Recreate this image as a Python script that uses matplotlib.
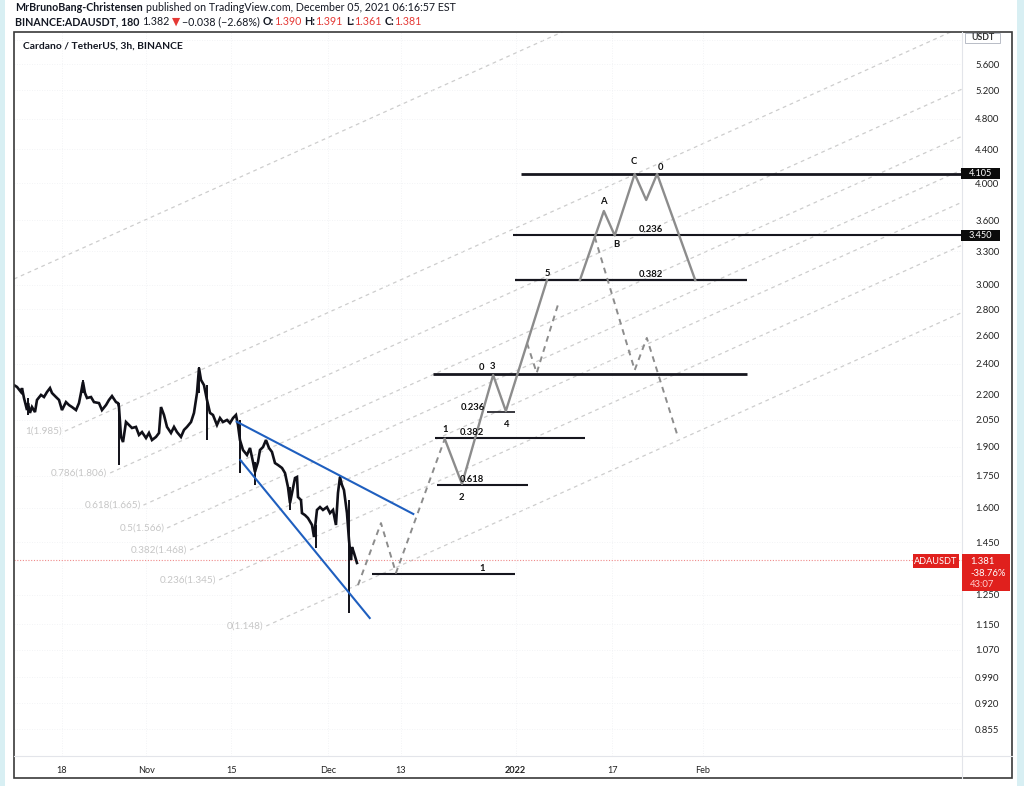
import numpy as np
import matplotlib
matplotlib.use("Agg")
import matplotlib.pyplot as plt
from matplotlib.patches import Rectangle
from matplotlib.lines import Line2D
from matplotlib.ticker import FixedLocator, NullLocator

plt.rcParams['font.family'] = ['Lato', 'DejaVu Sans']

# ---------------- data ----------------
# x: days relative to 2021-12-01 00:00, y: ADAUSDT price (log scale)
candle_days = [-51.90, -51.40, -50.74, -50.58, -50.25, -49.75, -49.59, -49.26, -48.93, -48.43,
               -48.10, -47.44, -46.94, -46.45, -45.95, -45.62, -44.96, -44.46, -43.97, -43.31,
               -42.81, -42.31, -41.65, -41.16, -40.83, -40.50, -40.17, -39.83, -39.17, -38.68,
               -37.85, -37.36, -36.69, -36.20, -35.70, -35.04, -34.71, -34.55, -34.21, -33.88,
               -33.39, -32.89, -32.40, -31.74, -31.24, -30.74, -30.08, -29.59, -29.09, -28.43,
               -27.93, -27.60, -27.11, -26.61, -25.95, -25.45, -24.96, -24.30, -23.80, -23.31,
               -22.64, -22.15, -21.65, -21.32, -20.99, -20.50, -20.00, -19.50, -19.01, -18.35,
               -17.85, -17.36, -16.69, -16.20, -15.70, -15.21, -14.88, -14.55, -14.05, -13.39,
               -12.89, -12.40, -12.07, -11.57, -11.24, -10.74, -10.25, -9.75, -9.26, -8.76,
               -8.26, -7.60, -7.11, -6.61, -6.28, -5.45, -5.12, -4.96, -4.46, -4.30,
               -3.80, -3.31, -2.64, -2.31, -1.82, -1.32, -0.83, -0.17, 0.33, 0.83,
               1.32, 1.65, 1.98, 2.31, 2.64, 3.14, 3.47, 3.80, 3.97, 4.30, 4.79]
candle_close = [2.261, 2.249, 2.217, 2.242, 2.180, 2.107, 2.149, 2.090, 2.125, 2.095,
                2.168, 2.199, 2.186, 2.217, 2.242, 2.211, 2.186, 2.168, 2.107, 2.155,
                2.137, 2.125, 2.107, 2.149, 2.211, 2.281, 2.211, 2.180, 2.186, 2.155,
                2.149, 2.107, 2.137, 2.168, 2.192, 2.155, 2.149, 2.125, 1.953, 1.925,
                2.037, 2.020, 2.003, 2.009, 1.964, 1.980, 1.947, 1.975, 1.936, 1.953,
                1.975, 2.125, 2.078, 2.009, 1.975, 2.009, 1.980, 1.953, 1.992, 2.009,
                2.037, 2.090, 2.211, 2.373, 2.294, 2.261, 2.168, 2.090, 2.078, 2.020,
                2.060, 2.037, 2.049, 2.031, 2.060, 2.078, 2.020, 1.936, 1.882, 1.856,
                1.893, 1.820, 1.769, 1.820, 1.882, 1.898, 1.936, 1.893, 1.872, 1.814,
                1.804, 1.789, 1.764, 1.695, 1.620, 1.739, 1.744, 1.648, 1.634, 1.575,
                1.566, 1.553, 1.523, 1.472, 1.589, 1.602, 1.589, 1.602, 1.575, 1.589,
                1.523, 1.667, 1.744, 1.705, 1.681, 1.575, 1.460, 1.379, 1.431, 1.407, 1.368]
wick_days = [-49.59, -40.50, -34.55, -21.32, -20.00, -14.55, -12.07, -6.28, -1.98, 1.98, 3.47]
wick_low = [2.078, 2.211, 1.804, 2.211, 1.936, 1.764, 1.705, 1.589, 1.427, 1.705, 1.188]
wick_high = [2.180, 2.294, 2.149, 2.380, 2.261, 2.049, 1.820, 1.695, 1.523, 1.755, 1.634]

price_ticks = [6.0, 5.6, 5.2, 4.8, 4.4, 4.0, 3.6, 3.3, 3.0, 2.8, 2.6, 2.4, 2.2, 2.05,
               1.9, 1.75, 1.6, 1.45, 1.25, 1.15, 1.07, 0.99, 0.92, 0.855]
price_tick_labels = ["6.000", "5.600", "5.200", "4.800", "4.400", "4.000", "3.600", "3.300",
                     "3.000", "2.800", "2.600", "2.400", "2.200", "2.050", "1.900", "1.750",
                     "1.600", "1.450", "1.250", "1.150", "1.070", "0.990", "0.920", "0.855"]
time_tick_days = [-44, -30, -16, 0, 12, 31, 47, 62]
time_tick_labels = ["18", "Nov", "15", "Dec", "13", "2022", "17", "Feb"]

wedge_upper_days = [-15.1, 14.1]
wedge_upper_prices = [2.039, 1.571]
wedge_lower_days = [-14.5, 6.9]
wedge_lower_prices = [1.830, 1.171]

fib_labels = ["", "1(1.985)", "0.786(1.806)", "0.618(1.665)", "0.5(1.566)",
              "0.382(1.468)", "0.236(1.345)", "0(1.148)"]
fib_start_days = [-51.9, -43.5, -36.0, -30.5, -26.6, -22.8, -18.0, -10.2]
fib_start_prices = [3.051, 1.985, 1.764, 1.611, 1.510, 1.419, 1.304, 1.145]
fib_log_slope_per_day = 0.0077
fib_end_day = 104.8

level_prices = [4.105, 3.450, 3.042, 2.333, 2.095, 1.947, 1.705, 1.326]
level_start_days = [31.9, 30.6, 30.9, 17.4, 26.3, 17.7, 18.0, 7.3]
level_end_days = [104.8, 104.8, 69.3, 69.3, 30.9, 42.5, 33.1, 30.9]
level_widths = [2.0, 1.5, 1.6, 2.0, 1.2, 1.5, 1.5, 1.5]

impulse_days = [19.3, 22.15, 27.3, 29.4, 36.2]
impulse_prices = [1.942, 1.710, 2.326, 2.101, 3.042]
abc_days = [41.65, 45.6, 47.4, 50.7, 52.6, 54.4, 60.7]
abc_prices = [3.042, 3.697, 3.450, 4.105, 3.814, 4.105, 3.042]
alt1_days = [4.96, 8.76, 11.24, 19.3]
alt1_prices = [1.285, 1.531, 1.330, 1.942]
alt2_days = [32.9, 34.5, 38.0]
alt2_prices = [2.546, 2.340, 2.835]
alt3_days = [44.1, 50.7, 52.7, 57.9]
alt3_prices = [3.435, 2.359, 2.583, 1.947]

wave_texts = ["C", "0", "A", "B", "0.236", "5", "0.382", "0", "3", "0.236", "4",
              "1", "0.382", "0.618", "2", "1"]
wave_text_days = [50.6, 54.9, 45.6, 47.6, 53.3, 36.2, 53.3, 25.3, 27.2, 23.9, 29.6,
                  19.3, 23.8, 23.8, 22.1, 25.4]
wave_text_prices = [4.258, 4.175, 3.793, 3.368, 3.504, 3.103, 3.086, 2.373, 2.382, 2.125,
                    2.025, 1.997, 1.975, 1.734, 1.648, 1.345]

last_price = 1.381
last_price_text = ["1.381", "-38.76%", "43:07"]
level_box_prices = [4.105, 3.450]
level_box_texts = ["4.105", "3.450"]

# ---------------- figure ----------------
W, H = 1024, 786
fig = plt.figure(figsize=(W / 100, H / 100), dpi=100)
fig.patch.set_facecolor('white')


def fx(px):
    return px / W


def fy(py):
    return 1 - py / H


ax = fig.add_axes([fx(14), fy(756), fx(962) - fx(14), fy(32) - fy(756)])
ax.set_yscale('log')
ax.set_xlim(-51.9, 104.8)
ax.set_ylim(0.793, 6.13)
for s in ax.spines.values():
    s.set_visible(False)

ax.yaxis.set_major_locator(FixedLocator(price_ticks))
ax.yaxis.set_minor_locator(NullLocator())
ax.set_yticklabels(price_tick_labels)
ax.yaxis.tick_right()
ax.tick_params(axis='y', length=0, pad=9.5, labelsize=6.8, labelcolor='#222222')
ax.set_xticks(time_tick_days)
ax.set_xticklabels(time_tick_labels)
ax.tick_params(axis='x', length=0, pad=7, labelsize=6.6, labelcolor='#222222')
for lbl in ax.get_xticklabels():
    if lbl.get_text() == "2022":
        lbl.set_fontweight('bold')
ax.grid(True, color='#eef0f3', lw=0.6, ls=(0, (1, 2)))

# fib channel
fgray = '#cdcdcd'
for lab, d0, p0 in zip(fib_labels, fib_start_days, fib_start_prices):
    p1 = p0 * np.exp(fib_log_slope_per_day * (fib_end_day - d0))
    ax.plot([d0, fib_end_day], [p0, p1], color=fgray, lw=0.9, dashes=(3, 3), zorder=1)
    if lab:
        ax.annotate(lab, (d0, p0), xytext=(-2, 0), textcoords='offset points',
                    ha='right', va='center', fontsize=7.2, color='#c6c6c6')

# current price line
ax.axhline(last_price, color='#ef8a8a', lw=0.8, ls=(0, (1, 1.5)), zorder=2)

# candles (dense 3h bars rendered as close path + wicks)
ax.plot(candle_days, candle_close, color='#101018', lw=1.9, zorder=4, solid_joinstyle='miter')
ax.vlines(wick_days, wick_low, wick_high, color='#101018', lw=1.4, zorder=4)

# wedge
ax.plot(wedge_upper_days, wedge_upper_prices, color='#1f5fbf', lw=1.5, zorder=5)
ax.plot(wedge_lower_days, wedge_lower_prices, color='#1f5fbf', lw=1.5, zorder=5)

# horizontal levels
for p, d0, d1, lw in zip(level_prices, level_start_days, level_end_days, level_widths):
    ax.plot([d0, d1], [p, p], color='#16161e', lw=lw, zorder=5, solid_capstyle='butt')

# wave paths
wgray = '#8c8c8c'
ax.plot(impulse_days, impulse_prices, color=wgray, lw=1.7, zorder=6)
ax.plot(abc_days, abc_prices, color=wgray, lw=1.7, zorder=6)
for dd, pp in [(alt1_days, alt1_prices), (alt2_days, alt2_prices), (alt3_days, alt3_prices)]:
    ax.plot(dd, pp, color=wgray, lw=1.4, dashes=(3, 2.5), zorder=6)

for t, d, p in zip(wave_texts, wave_text_days, wave_text_prices):
    ax.text(d, p, t, ha='center', va='center', fontsize=6.8, fontweight='bold',
            color='#111111', zorder=7)

# chart title
fig.text(fx(23), fy(46), "Cardano / TetherUS, 3h, BINANCE", fontsize=7.4,
         fontweight='bold', color='#131722', va='center', ha='left')

# ---------------- frame ----------------
def frect(x0, y0, x1, y1, **kw):
    r = Rectangle((fx(x0), fy(y1)), fx(x1) - fx(x0), fy(y0) - fy(y1),
                  transform=fig.transFigure, **kw)
    fig.patches.append(r)
    return r


frect(0, 0, 5, 786, facecolor='#d8eff3', edgecolor='none')
frect(1017, 0, 1024, 786, facecolor='#d8eff3', edgecolor='none')
fig.lines.append(Line2D([fx(962), fx(962)], [fy(32), fy(778)], transform=fig.transFigure,
                        color='#e3e5ea', lw=0.8))
fig.lines.append(Line2D([fx(14), fx(1012)], [fy(756), fy(756)], transform=fig.transFigure,
                        color='#e3e5ea', lw=0.8))
frect(14, 32, 1012, 778, facecolor='none', edgecolor='#3a3a3a', lw=1.2)

# right-axis boxes
for p, txt in zip(level_box_prices, level_box_texts):
    ypx = 64 + (np.log(5.6) - np.log(p)) * 354
    frect(961, ypx - 5.5, 1000, ypx + 5.5, facecolor='#0b0b0b', edgecolor='none', zorder=5)
    fig.text(fx(980.5), fy(ypx), txt, color='white', fontsize=6.6, ha='center',
             va='center', zorder=6)

frect(965, 33, 1000, 43, facecolor='white', edgecolor='#b8bcc6', lw=0.7, zorder=5)
fig.text(fx(982.5), fy(38), "USDT", fontsize=6.3, fontweight='bold', color='#333',
         ha='center', va='center', zorder=6)

red = '#e0201d'
frect(913, 554, 959, 567.5, facecolor=red, edgecolor='none', zorder=5)
fig.text(fx(936), fy(561), "ADAUSDT", color='white', fontsize=6.6, ha='center',
         va='center', zorder=6)
frect(962, 553.5, 1010, 591, facecolor=red, edgecolor='none', zorder=5)
for txt, ypx, col in zip(last_price_text, [561, 573, 584.5], ['white', 'white', '#ffd0d0']):
    fig.text(fx(970), fy(ypx), txt, color=col, fontsize=6.8, ha='left', va='center',
             zorder=6)

# ---------------- header ----------------
renderer = fig.canvas.get_renderer()


def chain(x_px, y_px, parts, size):
    x = x_px
    for txt, col, wt, gap in parts:
        x += gap
        t = fig.text(fx(x), fy(y_px), txt, color=col, fontsize=size, fontweight=wt,
                     ha='left', va='baseline')
        x += t.get_window_extent(renderer).width


dark = '#131722'
hred = '#e53935'
chain(15, 11, [("MrBrunoBang-Christensen", dark, 'bold', 0),
               ("published on TradingView.com, December 05, 2021 06:16:57 EST", dark, 'normal', 3)],
      7.7)
chain(15, 25, [("BINANCE:ADAUSDT, 180", dark, 'bold', 0),
               ("1.382", dark, 'normal', 3),
               ("▼", hred, 'normal', 2),
               ("−0.038 (−2.68%)", dark, 'normal', 2),
               ("O:", dark, 'bold', 3),
               ("1.390", hred, 'normal', 0),
               ("H:", dark, 'bold', 3),
               ("1.391", hred, 'normal', 0),
               ("L:", dark, 'bold', 3),
               ("1.361", hred, 'normal', 0),
               ("C:", dark, 'bold', 3),
               ("1.381", hred, 'normal', 0)],
      7.7)

fig.savefig("out.png", dpi=100)
